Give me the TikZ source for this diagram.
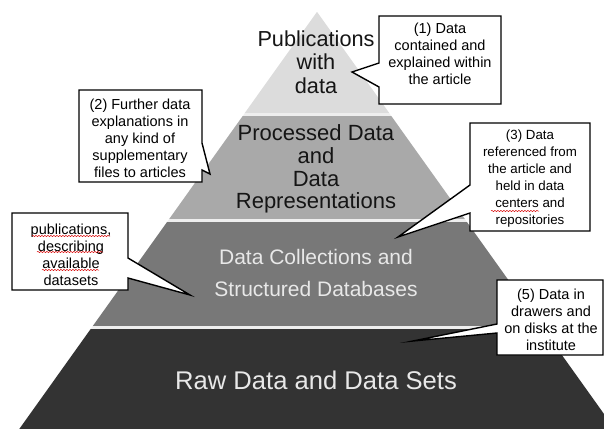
\documentclass[tikz,border=0pt]{standalone}
\usepackage{fontspec}
\setmainfont{Liberation Sans}
\usetikzlibrary{decorations.pathmorphing}

\definecolor{bandA}{HTML}{DCDCDC}
\definecolor{bandB}{HTML}{A9A9A9}
\definecolor{bandC}{HTML}{787878}
\definecolor{bandD}{HTML}{333333}
\definecolor{gapgray}{HTML}{EEEEEE}
\definecolor{inkdark}{HTML}{151515}
\definecolor{inklight}{HTML}{E8E8E8}

\begin{document}
\begin{tikzpicture}[x=1pt,y=1pt,
  boxframe/.style={draw=none,inner sep=0pt,outer sep=0pt},
  calloutbox/.style={fill=white,draw=black,line width=1.4pt,line join=miter,miter limit=20},
  boxtext/.style={align=center,inner sep=0pt,font=\fontsize{14.5}{17}\selectfont},
  leveltext/.style={align=center,inner sep=0pt},
  squiggle/.style={red!85!black,line width=0.5pt,decorate,
    decoration={snake,segment length=3pt,amplitude=0.6pt}}]
\useasboundingbox (0,0) rectangle (604,429);
\fill[white] (0,0) rectangle (604,429);

% pyramid: four horizontal bands clipped to the triangle
\begin{scope}
  \clip (317,417) -- (19.3,0) -- (614.7,0) -- cycle;
  \fill[gapgray] (0,0) rectangle (604,417);
  \fill[bandA] (0,316) rectangle (604,417);
  \fill[bandB] (0,210) rectangle (604,313);
  \fill[bandC] (0,103) rectangle (604,207);
  \fill[bandD] (0,0) rectangle (604,100);
\end{scope}

% level labels
\node[leveltext,text=inkdark,font=\fontsize{21.7}{23.5}\selectfont] (p1) at (316,367)
  {Publications\\with\\data};
\node[leveltext,text=inkdark,font=\fontsize{22}{22.7}\selectfont] (p2) at (316,260)
  {Processed Data\\and\\Data\\Representations};
\node[leveltext,text=inklight,font=\fontsize{21}{32}\selectfont] (p3) at (316,156)
  {Data Collections and\\Structured Databases};
\node[leveltext,text=inklight,font=\fontsize{25.6}{28}\selectfont] (p4) at (316,49)
  {Raw Data and Data Sets};

% callout frames
\node[boxframe,minimum width=122pt,minimum height=88pt] (b1) at (440,369) {};
\node[boxframe,minimum width=123pt,minimum height=92pt] (b2) at (140.5,293) {};
\node[boxframe,minimum width=120pt,minimum height=108pt] (b3) at (530,252) {};
\node[boxframe,minimum width=116pt,minimum height=77pt] (b4) at (70,177.5) {};
\node[boxframe,minimum width=106pt,minimum height=75pt] (b5) at (550,111.5) {};

\coordinate (t1) at (352,357);
\coordinate (t2) at (210,255);
\coordinate (t3) at (398,192);
\coordinate (t4) at (190,134);
\coordinate (t5) at (413,88);

\draw[calloutbox] (b1.north west) -- (b1.north east) -- (b1.south east) -- (b1.south west)
  -- (b1.south west |- 0,342) -- (t1) -- (b1.south west |- 0,366) -- cycle;
\draw[calloutbox] (b2.north west) -- (b2.north east) -- (b2.north east |- 0,286) -- (t2)
  -- (b2.north east |- 0,259) -- (b2.south east) -- (b2.south west) -- cycle;
\draw[calloutbox] (b3.north west) -- (b3.north east) -- (b3.south east) -- (b3.south west)
  -- (b3.south west |- 0,216) -- (t3) -- (b3.south west |- 0,244) -- cycle;
\draw[calloutbox] (b4.north west) -- (b4.north east) -- (b4.north east |- 0,171) -- (t4)
  -- (b4.north east |- 0,151) -- (b4.south east) -- (b4.south west) -- cycle;
\draw[calloutbox] (b5.north west) -- (b5.north east) -- (b5.south east) -- (b5.south west)
  -- (b5.south west |- 0,96) -- (t5) -- (b5.south west |- 0,105) -- cycle;

% callout texts
\node[boxtext] (c1) at (440,375) {(1) Data\\contained and\\explained within\\the article};
\node[boxtext] (c2) at (140,291) {(2) Further data\\explanations in\\any kind of\\supplementary\\files to articles};
\node[boxtext,font=\fontsize{13.3}{17}\selectfont] (c3) at (530,250)
  {(3) Data\\referenced from\\the article and\\held in data\\centers and\\repositories};
\node[boxtext] (c4) at (71,174) {publications,\\describing\\available\\datasets};
\node[boxtext] (c5) at (551,109) {(5) Data in\\drawers and\\on disks at the\\institute};

% spell-check underlines
\draw[squiggle] (32,193) -- (110,193);
\draw[squiggle] (37,177) -- (103,177);
\draw[squiggle] (42,159) -- (99,159);
\draw[squiggle] (491,218) -- (539,218);
\end{tikzpicture}
\end{document}
